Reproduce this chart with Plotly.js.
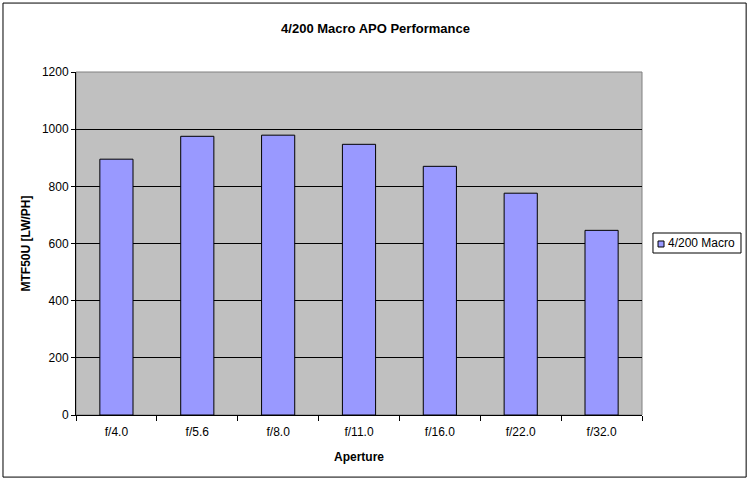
<!DOCTYPE html>
<html>
<head>
<meta charset="utf-8">
<script src="https://cdn.plot.ly/plotly-3.0.1.min.js"></script>
<style>
  html, body { margin: 0; padding: 0; background: #fff; }
  #chart { width: 751px; height: 483px; }
</style>
</head>
<body>
<div id="chart"></div>
<script>
// aperture steps and the MTF50U measured at each one
var apertures = ['f/4.0', 'f/5.6', 'f/8.0', 'f/11.0', 'f/16.0', 'f/22.0', 'f/32.0'];
var mtf50u = [895, 975, 979, 947, 870, 776, 646];
var serieNome = '4/200 Macro';
var yTicks = [0, 200, 400, 600, 800, 1000, 1200];

var fonte = 'Liberation Sans, Arial, sans-serif';
var corBarra = '#9999ff';

var data = [{
  type: 'bar',
  x: apertures,
  y: mtf50u,
  name: serieNome,
  marker: { color: corBarra, line: { color: '#000000', width: 1 } },
  hoverinfo: 'x+y'
}];

var layout = {
  width: 751,
  height: 483,
  margin: { l: 76, r: 109, t: 72, b: 68, autoexpand: false },
  paper_bgcolor: '#ffffff',
  plot_bgcolor: '#c0c0c0',
  bargap: 0.59,
  font: { family: fonte, size: 12, color: '#000' },
  title: {
    text: '<b>4/200 Macro APO Performance</b>',
    font: { family: fonte, size: 13, color: '#000' },
    x: 0.5, xanchor: 'center', y: 0.942, yanchor: 'middle'
  },
  showlegend: false, // legenda desenhada a mao (estilo excel)
  xaxis: {
    type: 'category',
    showline: true, linecolor: '#000', linewidth: 1,
    ticks: 'outside', tickson: 'boundaries', ticklen: 5, tickcolor: '#000',
    ticklabelstandoff: 6,
    tickfont: { family: fonte, size: 12 },
    showgrid: false, zeroline: false,
    title: { text: '<b>Aperture</b>', font: { family: fonte, size: 12 }, standoff: 14 }
  },
  yaxis: {
    range: [0, 1200],
    tickvals: yTicks,
    showline: true, linecolor: '#000', linewidth: 1,
    ticks: 'outside', ticklen: 4, tickcolor: '#000',
    tickfont: { family: fonte, size: 12 },
    showgrid: true, gridcolor: '#000', gridwidth: 1,
    zeroline: false,
    title: { text: '<b>MTF50U [LW/PH]</b>', font: { family: fonte, size: 12 }, standoff: 8 }
  },
  shapes: [
    // borda da area do grafico (cinza)
    { type: 'rect', xref: 'paper', yref: 'paper', x0: 0, x1: 1, y0: 0, y1: 1,
      line: { color: '#808080', width: 1 }, layer: 'below' },
    // moldura externa
    { type: 'rect', xref: 'paper', yref: 'paper', x0: -0.129, x1: 1.184, y0: -0.181, y1: 1.201,
      line: { color: '#000', width: 1 } },
    // caixa da legenda
    { type: 'rect', xref: 'paper', yref: 'paper', x0: 1.0194, x1: 1.1749, y0: 0.4723, y1: 0.5306,
      line: { color: '#000', width: 1 }, fillcolor: '#fff' },
    // simbolo da legenda
    { type: 'rect', xref: 'paper', yref: 'paper', x0: 1.0283, x1: 1.0389, y0: 0.4898, y1: 0.5073,
      line: { color: '#000', width: 1 }, fillcolor: corBarra }
  ],
  annotations: [
    { xref: 'paper', yref: 'paper', x: 1.0424, y: 0.5015, xanchor: 'left', yanchor: 'middle',
      text: serieNome, showarrow: false, font: { family: fonte, size: 12, color: '#000' } }
  ]
};

Plotly.newPlot('chart', data, layout, { displayModeBar: false, staticPlot: true });
</script>
</body>
</html>
